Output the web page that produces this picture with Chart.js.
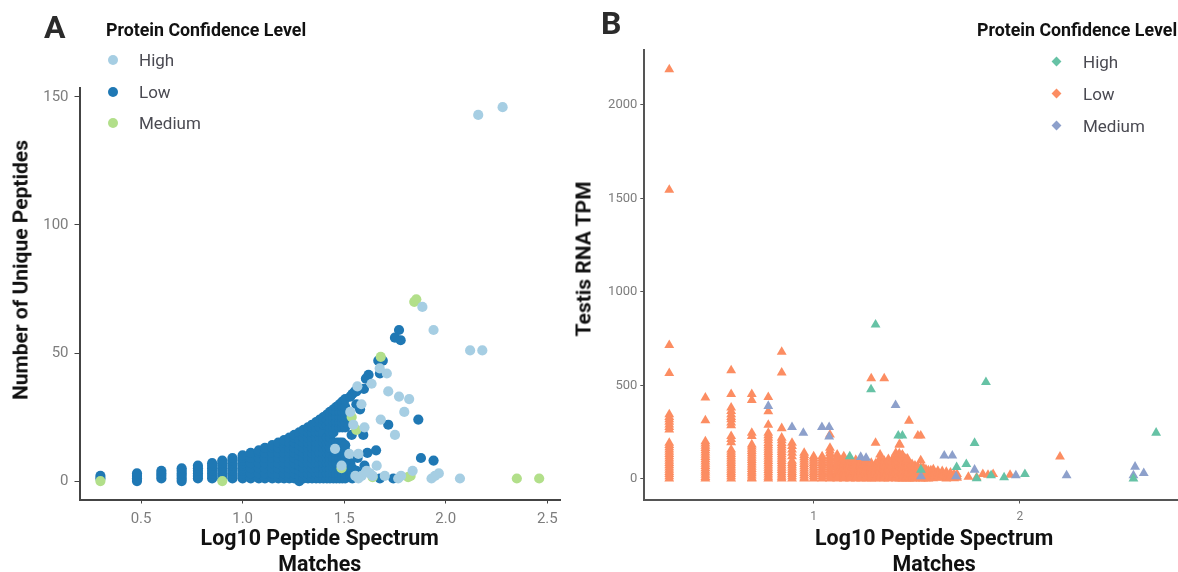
<!DOCTYPE html>
<html>
<head>
<meta charset="utf-8">
<script src="https://cdn.jsdelivr.net/npm/chart.js@4"></script>
<style>
html,body{margin:0;padding:0;background:#fff;width:1178px;height:572px;overflow:hidden;font-family:Roboto,sans-serif}
#page{position:relative;width:1178px;height:572px;overflow:hidden;filter:blur(0.45px)}
.cv{position:absolute;top:0}
.abs{position:absolute;white-space:nowrap;line-height:1}
.panel{font-weight:700;font-size:32px;color:#2b2b2b}
.ltitle{font-weight:700;font-size:17.8px;color:#111}
.litem{font-size:17px;color:#4a4a52}
.ytitle{font-weight:700;font-size:21px;color:#111;transform:translate(-50%,-50%) rotate(-90deg)}
.dotA{width:10px;height:10px;border-radius:50%}
.dotB{width:7px;height:7px;transform:rotate(45deg)}
</style>
</head>
<body>
<div id="page">
  <div style="position:absolute;left:0;width:590px;height:579px" class="cv"><canvas id="a"></canvas></div>
  <div style="position:absolute;left:590px;width:650px;height:579px" class="cv"><canvas id="b"></canvas></div>

  <div class="abs panel" style="left:44px;top:11px">A</div>
  <div class="abs panel" style="left:601px;top:7px">B</div>

  <div class="abs ytitle" style="left:21px;top:270px">Number of Unique Peptides</div>
  <div class="abs ytitle" style="left:584px;top:259px">Testis RNA TPM</div>

  <div class="abs ltitle" style="left:106px;top:21px">Protein Confidence Level</div>
  <div class="abs dotA" style="left:108px;top:55px;background:#A6CEE3"></div><div class="abs litem" style="left:139px;top:52px">High</div>
  <div class="abs dotA" style="left:108px;top:87px;background:#1F78B4"></div><div class="abs litem" style="left:139px;top:84px">Low</div>
  <div class="abs dotA" style="left:108px;top:118px;background:#B2DF8A"></div><div class="abs litem" style="left:139px;top:115px">Medium</div>

  <div class="abs ltitle" style="left:977px;top:21px">Protein Confidence Level</div>
  <div class="abs dotB" style="left:1053px;top:58px;background:#66C2A5"></div><div class="abs litem" style="left:1083px;top:54px">High</div>
  <div class="abs dotB" style="left:1053px;top:90px;background:#FC8D62"></div><div class="abs litem" style="left:1083px;top:86px">Low</div>
  <div class="abs dotB" style="left:1053px;top:122px;background:#8DA0CB"></div><div class="abs litem" style="left:1083px;top:118px">Medium</div>
</div>
<script>
const seriesNames = ["High", "Low", "Medium"];
const xTicksA = [0.5, 1.0, 1.5, 2.0, 2.5];
const yTicksA = [0, 50, 100, 150];
const xTicksB = [1, 2];
const yTicksB = [0, 500, 1000, 1500, 2000];

// ---------- Panel A ----------
const highA = [[2.16,143],[2.28,146],[1.885,68],[1.94,59],[2.12,51],[2.18,51],[1.717,35],[1.77,33],[1.82,32],[1.796,27],
 [1.68,24],[1.75,18],[1.60,21],[1.635,38],[1.71,42],[1.675,44],[1.565,37],[1.585,30],[1.53,27],[1.545,22],[1.525,10.6],[1.57,10.6],
 [1.66,6],[1.837,4],[1.966,3],[1.947,2],[1.93,1],[2.07,1],[1.78,2],[1.766,1],[1.70,2],[1.627,3],[1.586,2],[1.555,2],[1.455,12.6],[1.487,6],[1.64,2],[1.57,1],[1.61,4]];
const mediumA = [[1.845,70],[1.855,71],[1.537,25],[1.56,20],[1.827,2],[1.815,1.5],[2.35,1],[2.46,1],[0.30,0],[0.90,0],[1.487,5],[1.64,1.5],[1.68,48.5]];

const lowColumnX = [0.30,0.48,0.60,0.70,0.78,0.85,0.90,0.95,1.00,1.04,1.08,1.11,1.146,1.176,1.204,1.23,1.255,1.279,1.30,1.322,1.342,1.362,1.38,1.398,1.415,1.43,1.447,1.462,1.477,1.491,1.505,1.53,1.54,1.56];
const lowColumnY = [
 [1,2],
 [0,1,2,3],
 [1,2,3,4],
 [0,1,2,3,4,5],
 [1,2,3,4,5,6],
 [1,2,3,4,5,6,7],
 [1,2,3,4,5,6,7,8],
 [1,2,3,4,5,6,7,8,9],
 [1,2,3,4,5,6,7,8,9,10],
 [1,3,5,7,9,11],
 [1,3,5,7,9,11,12],
 [1,3,5,7,9,11,13],
 [1,3,5,7,9,11,13,14],
 [1,3,5,7,9,11,13,15],
 [1,3,5,7,9,11,13,15,16],
 [1,3,5,7,9,11,13,15,17],
 [1,3,5,7,9,11,13,15,17,18],
 [0,2,4,6,8,10,12,14,16,18,19],
 [1,3,5,7,9,11,13,15,17,19,20],
 [1,3,5,7,9,11,13,15,17,19,21],
 [1,3,5,7,9,11,13,15,17,19,21,22],
 [1,3,5,7,9,11,13,15,17,19,21,23],
 [1,3,5,7,9,11,13,15,17,19,21,23,24],
 [1,3,5,7,9,11,13,15,17,19,22,24,25],
 [1,3,5,7,9,11,13,15,17,22,24,26],
 [1,3,5,7,9,11,13,15,17,19,21,23,25,27],
 [1,3,5,7,9,15,19,21,23,25,27,28],
 [1,3,7,9,11,13,15,21,23,25,27,29],
 [1,3,9,11,13,15,21,23,25,27,29,30],
 [1,3,9,11,13,15,21,23,25,27,29,31],
 [1,3,5,8,10,12,14,21,23,25,27,29,32],
 [2,4,7,33],
 [1,3,5,34],
 [2,4,35]
];
const lowExtraA = [[1.77,59],[1.75,56],[1.778,55],[1.668,47],[1.69,47],[1.676,42],[1.62,41.5],[1.607,40],[1.597,36],[1.553,35],
 [1.578,28],[1.56,30],[1.865,24],[1.717,22],[1.537,18],[1.594,18],[1.657,12],[1.614,11],[1.566,9],[1.878,9],[1.94,8],[1.6,6],[1.676,1],[1.742,1]];

// ---------- Panel B ----------
const highB = [[1.30,824],[1.278,478],[1.175,120],[1.41,231],[1.43,230],[1.835,517],[2.66,246],[1.78,191],[1.693,62],[1.74,78],[2.55,0],[2.024,25],[1.923,7],[1.86,18],[1.79,2],[1.52,48]];
const mediumB = [[0.78,389],[0.895,276],[0.95,245],[1.04,276],[1.075,276],[1.075,225],[1.228,116],[1.254,111],[1.397,394],[1.633,123],[1.672,123],[1.78,48],[2.226,18],[2.558,64],[2.60,30],[2.55,18],[1.98,18],[1.69,12],[1.52,12]];
const lowColumnXB = [0.30,0.475,0.60,0.70,0.78,0.845,0.895,0.954,1.00,1.041,1.079,1.114,1.146,1.176,1.204,1.23,1.255,1.279,1.30,1.322,1.342,1.362,1.38,1.398,1.415,1.43,1.447,1.462,1.477,1.491,1.505,1.519,1.531,1.544,1.556,1.568,1.58,1.602,1.623,1.643,1.663,1.681,1.695];
const lowColumnYB = [
 [2190,1545,715,565,344,330,317,304,290,276,263,192,180,168,156,144,132,120,108,96,84,72,60,48,36,24,12,0],
 [434,312,200,188,176,164,152,140,128,116,104,92,80,68,56,44,32,20,8,0],
 [580,452,380,362,344,330,317,300,285,228,212,195,156,144,132,120,108,96,84,72,60,48,36,24,12,0],
 [452,421,245,228,183,172,160,148,136,124,112,100,88,76,64,52,40,28,16,4,0],
 [437,360,288,245,232,219,205,190,178,166,154,142,130,118,106,94,82,70,58,46,34,22,10,0],
 [679,568,270,219,205,190,178,166,154,142,130,118,106,94,82,70,58,46,34,22,10,0],
 [192,174,156,138,120,96,84,72,60,48,36,24,12,0],
 [138,126,114,102,90,78,66,54,42,30,18,6,0],
 [120,108,96,84,72,60,48,36,24,12,0],
 [120,108,96,84,72,60,48,36,24,12,0],
 [236,165,150,135,120,108,96,84,72,60,48,36,24,12,0],
 [129,115,100,88,76,64,52,40,28,16,4,0],
 [120,108,96,84,72,60,48,36,24,12,0],
 [105,93,81,69,57,45,33,21,9,0],
 [100,88,76,64,52,40,28,16,4,0],
 [105,93,81,69,57,45,33,21,9,0],
 [93,81,69,57,45,33,21,9,0],
 [537,85,73,61,49,37,25,13,1],
 [192,80,68,56,44,32,20,8,0],
 [129,110,98,86,74,62,50,38,26,14,2],
 [537,95,83,71,59,47,35,23,11,0],
 [105,93,81,69,57,45,33,21,9,0],
 [100,88,76,64,52,40,28,16,4],
 [138,120,105,93,81,69,57,45,33,21,9,0],
 [183,135,120,105,93,81,69,57,45,33,21,9,0],
 [128,105,93,81,69,57,45,33,21,9,0],
 [107,95,83,71,59,47,35,23,11,0],
 [310,85,73,61,49,37,25,13,1],
 [78,66,54,42,30,18,6,0],
 [70,58,46,34,22,10,0],
 [230,65,53,41,29,17,5],
 [230,98,60,48,36,24,12,0],
 [60,48,36,24,12,0],
 [50,38,26,14,2],
 [45,33,21,9,0],
 [45,33,21,9],
 [50,38,26,14,2],
 [42,30,18,6],
 [40,28,16,4],
 [36,24,12,0],
 [32,20,8],
 [26,14,2],
 [25,12,4]
];
const lowExtraB = [[1.418,182],[1.43,128],[1.455,107],[1.79,7],[1.82,25],[1.87,25],[1.952,21],[2.194,118],[1.845,20],[1.75,10]];

// ---------- Build ----------
const colsToPoints = (xs, ys) => xs.flatMap((x, i) => ys[i].map(y => ({x, y})));
const pairsToPoints = p => p.map(([x, y]) => ({x, y}));
const CANVAS_H = 579;

function makeChart(id, cfg) {
  const el = document.getElementById(id);
  el.width = cfg.w; el.height = CANVAS_H;
  el.style.width = cfg.w + "px"; el.style.height = CANVAS_H + "px";
  const axisLine = {color: cfg.axisColor, width: 2};
  return new Chart(el, {
    type: "scatter",
    data: {datasets: cfg.order.map(s => ({
      label: s.label, data: s.data, backgroundColor: s.color, borderColor: s.color, borderWidth: 0,
      pointStyle: cfg.pointStyle, pointRadius: cfg.radius, pointHoverRadius: cfg.radius
    }))},
    options: {
      responsive: false, animation: false,
      layout: {padding: {top: cfg.top, right: cfg.right, left: 0, bottom: 0}},
      plugins: {legend: {display: false}, tooltip: {enabled: false}},
      scales: {
        x: {
          type: "linear", min: cfg.xMin, max: cfg.xMax,
          afterBuildTicks: a => { a.ticks = cfg.xTicks.map(value => ({value})); },
          afterFit: a => { a.height = CANVAS_H - 499.5; },
          border: axisLine,
          grid: {drawOnChartArea: false, drawTicks: true, tickLength: 4, color: cfg.axisColor, tickWidth: 1},
          ticks: {autoSkip: false, maxRotation: 0, padding: cfg.xTickPad, color: "#7d7d7d", font: {family: "Roboto", size: cfg.xTickSize},
                  callback: v => cfg.xFmt(v)},
          title: {display: true, text: ["Log10 Peptide Spectrum", "Matches"], color: "#111",
                  font: {family: "Roboto", size: 21.4, weight: "700", lineHeight: 1.215}, padding: {top: 0, bottom: 0}}
        },
        y: {
          type: "linear", min: cfg.yMin, max: cfg.yMax,
          afterBuildTicks: a => { a.ticks = cfg.yTicks.map(value => ({value})); },
          afterFit: a => { a.width = cfg.yWidth; },
          border: axisLine,
          grid: {drawOnChartArea: false, drawTicks: true, tickLength: cfg.yTickLen, color: cfg.axisColor, tickWidth: 1},
          ticks: {autoSkip: false, padding: cfg.yTickPad, color: "#7d7d7d", font: {family: "Roboto", size: cfg.yTickSize},
                  callback: v => String(v)}
        }
      }
    }
  });
}

makeChart("a", {
  w: 590, top: 88, right: 30, yWidth: 79.5, xMin: 0.197, xMax: 2.5625, yMin: -7.2, yMax: 153.5,
  xTicks: xTicksA, yTicks: yTicksA, xFmt: v => v.toFixed(1), xTickSize: 15, yTickSize: 15, xTickPad: 7, yTickPad: 6, yTickLen: 5,
  axisColor: "#444", pointStyle: "circle", radius: 5.1,
  order: [
    {label: seriesNames[0], data: pairsToPoints(highA), color: "#A6CEE3"},
    {label: seriesNames[2], data: pairsToPoints(mediumA), color: "#B2DF8A"},
    {label: seriesNames[1], data: colsToPoints(lowColumnX, lowColumnY).concat(pairsToPoints(lowExtraA)), color: "#1F78B4"}
  ]
});

makeChart("b", {
  w: 650, top: 50, right: 16, yWidth: 54.3, xMin: 0.179, xMax: 2.989, yMin: -111, yMax: 2294,
  xTicks: xTicksB, yTicks: yTicksB, xFmt: v => String(v), xTickSize: 12, yTickSize: 13, xTickPad: 6, yTickPad: 3, yTickLen: 4,
  axisColor: "#555", pointStyle: "triangle", radius: 5.7,
  order: [
    {label: seriesNames[0], data: pairsToPoints(highB), color: "#66C2A5"},
    {label: seriesNames[2], data: pairsToPoints(mediumB), color: "#8DA0CB"},
    {label: seriesNames[1], data: colsToPoints(lowColumnXB, lowColumnYB).concat(pairsToPoints(lowExtraB)), color: "#FC8D62"}
  ]
});
</script>
</body>
</html>
